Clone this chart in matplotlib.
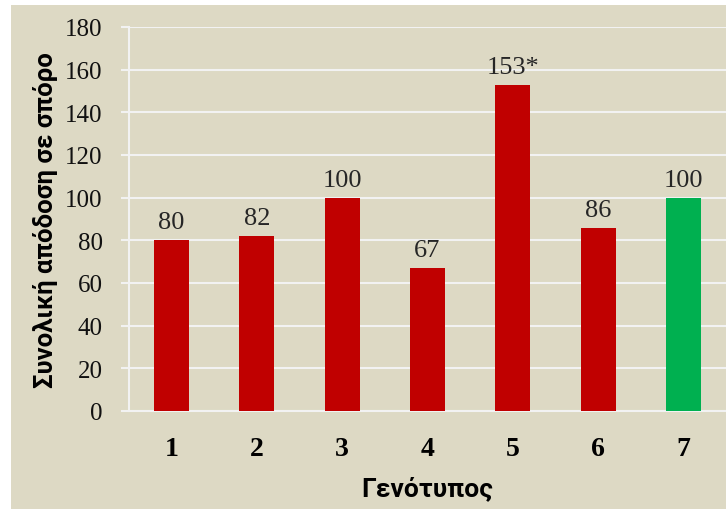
import matplotlib
matplotlib.use("Agg")
import matplotlib.pyplot as plt
from matplotlib.patches import Rectangle

categories = ["1", "2", "3", "4", "5", "6", "7"]
values = [80, 82, 100, 67, 153, 86, 100]
labels = ["80", "82", "100", "67", "153*", "86", "100"]
colors = ["#C00000"] * 6 + ["#00B050"]
yticks = [0, 20, 40, 60, 80, 100, 120, 140, 160, 180]

bg = "#DDD9C4"
grid = "#F2F2F2"

fig = plt.figure(figsize=(7.26, 5.10), dpi=100)
fig.patch.set_facecolor("white")
fig.patches.append(Rectangle((11 / 726, 0), 1 - 11 / 726, 1 - 6 / 510,
                             transform=fig.transFigure, facecolor=bg,
                             edgecolor="none", zorder=-10))

ax = fig.add_axes([129 / 726, (510 - 412) / 510, 1 - 129 / 726, (412 - 28) / 510])
ax.set_facecolor("none")
x = list(range(len(categories)))
ax.bar(x, values, width=0.41, color=colors, zorder=3)
ax.set_xlim(-0.5, len(categories) - 0.5)
ax.set_ylim(0, 180)
ax.set_yticks(yticks)
ax.set_xticks(x)
ax.set_xticklabels(categories)

serif = "Liberation Serif"
for t in ax.get_yticklabels():
    t.set_fontfamily(serif)
    t.set_fontsize(18)
    t.set_color("#111111")
for t in ax.get_xticklabels():
    t.set_fontfamily(serif)
    t.set_fontsize(20)
    t.set_fontweight("bold")

ax.tick_params(axis="y", length=6, color=grid, width=1.5, pad=13)
ax.tick_params(axis="x", length=0, pad=18)
ax.yaxis.grid(True, color=grid, linewidth=1.5, zorder=0)
ax.set_axisbelow(True)
for s in ["top", "right"]:
    ax.spines[s].set_visible(False)
for s in ["left", "bottom"]:
    ax.spines[s].set_color(grid)
    ax.spines[s].set_linewidth(1.5)

for xi, v, lab in zip(x, values, labels):
    ax.annotate(lab, (xi, v), xytext=(0, 5), textcoords="offset points",
                ha="center", va="bottom", fontsize=19,
                fontfamily=serif, color="#262626", zorder=4)

ax.set_ylabel("Συνολική απόδοση σε σπόρο", fontsize=18.5, fontweight="bold",
              fontstyle="normal", fontfamily="Roboto", labelpad=5)
ax.set_xlabel("Γενότυπος", fontsize=19, fontweight="bold",
              fontstyle="normal", fontfamily="Roboto", labelpad=10)

fig.savefig("out.png", dpi=100, facecolor=fig.get_facecolor())
